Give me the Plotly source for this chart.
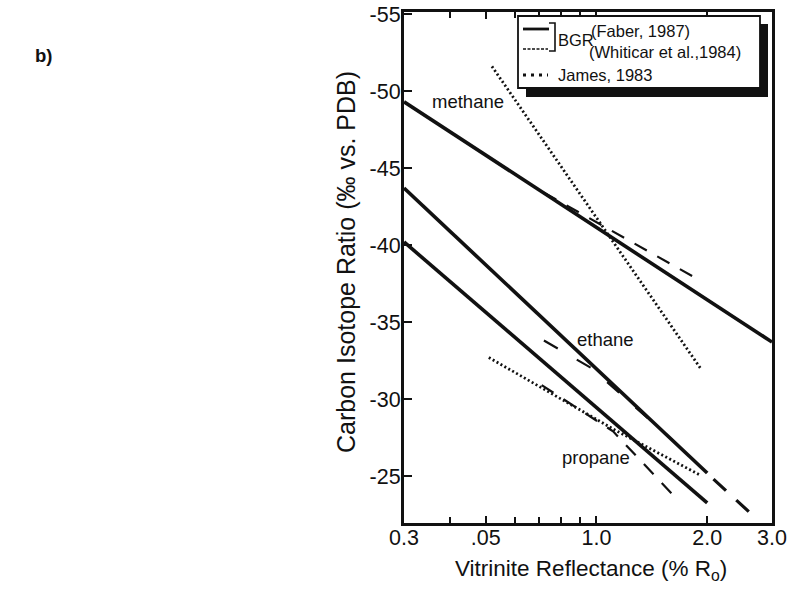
import plotly.graph_objects as go

# ---- data: vitrinite reflectance (%Ro) vs. carbon isotope ratio (permil vs. PDB) ----
# BGR regression lines (Faber, 1987)
methane_bgr_ro = [0.3, 3.0]
methane_bgr_d13c = [-49.3, -33.7]
ethane_bgr_ro = [0.3, 2.0]
ethane_bgr_d13c = [-43.7, -25.2]
ethane_ext_ro = [2.08, 2.66]          # extrapolated part of the ethane line
ethane_ext_d13c = [-24.8, -22.45]
propane_bgr_ro = [0.3, 2.0]
propane_bgr_d13c = [-40.2, -23.25]

# BGR data trends (Whiticar et al., 1984)
methane_whit_ro = [0.72, 1.88]
methane_whit_d13c = [-43.4, -37.8]
ethane_whit_ro = [0.72, 0.97, 1.65]
ethane_whit_d13c = [-33.8, -32.0, -27.1]
propane_whit_ro = [0.71, 1.11, 1.64]
propane_whit_d13c = [-30.9, -27.9, -23.6]

# James, 1983
methane_james_ro = [0.52, 1.93]
methane_james_d13c = [-51.6, -31.9]
propane_james_ro = [0.51, 1.12, 1.90]
propane_james_d13c = [-32.7, -28.0, -25.1]

x_tickvals = [0.3, 0.5, 1.0, 2.0, 3.0]
x_ticktext = ["0.3", ".05", "1.0", "2.0", "3.0"]
x_minor_ticks = [0.4, 0.6, 0.7, 0.8, 0.9]
y_tickvals = [-55, -50, -45, -40, -35, -30, -25]
y_ticktext = ["-55", "-50", "-45", "-40", "-35", "-30", "-25"]

FONT = "Liberation Sans, Arial, Helvetica, sans-serif"
INK = "#111111"

# plot-area geometry in pixels
W, H = 793, 589
L, R, T, B = 404, 772, 12, 523


def px(xp):
    return (xp - L) / (R - L)


def py(yp):
    return (B - yp) / (B - T)


fig = go.Figure()


def add_line(xs, ys, width, dash="solid"):
    fig.add_trace(go.Scatter(
        x=xs, y=ys, mode="lines", showlegend=False, hoverinfo="skip",
        line=dict(color=INK, width=width, dash=dash),
    ))


# James (dotted)
add_line(methane_james_ro, methane_james_d13c, 2.8, "2px,2.5px")
add_line(propane_james_ro, propane_james_d13c, 2.8, "2px,2.5px")
# Whiticar (thin broken)
add_line(methane_whit_ro, methane_whit_d13c, 2.2, "14px,12px")
add_line(ethane_whit_ro, ethane_whit_d13c, 2.2, "16px,22px")
add_line(propane_whit_ro, propane_whit_d13c, 2.2, "14px,12px")
# Faber (solid)
add_line(methane_bgr_ro, methane_bgr_d13c, 3.6)
add_line(ethane_bgr_ro, ethane_bgr_d13c, 3.6)
add_line(propane_bgr_ro, propane_bgr_d13c, 3.6)
add_line(ethane_ext_ro, ethane_ext_d13c, 3.2, "17px,14px")

shapes = [
    # legend box with drop shadow
    dict(type="rect", xref="paper", yref="paper", x0=px(526), x1=px(768), y0=py(97), y1=py(24),
         fillcolor=INK, line=dict(width=0), layer="above"),
    dict(type="rect", xref="paper", yref="paper", x0=px(518), x1=px(760), y0=py(88), y1=py(16),
         fillcolor="white", line=dict(color=INK, width=1.8), layer="above"),
    # legend samples
    dict(type="line", xref="paper", yref="paper", x0=px(523), x1=px(549), y0=py(29), y1=py(29),
         line=dict(color=INK, width=2.8), layer="above"),
    dict(type="line", xref="paper", yref="paper", x0=px(523), x1=px(548), y0=py(49), y1=py(49),
         line=dict(color=INK, width=1.5, dash="3px,1.5px"), layer="above"),
    dict(type="path", xref="paper", yref="paper",
         path=f"M {px(549)} {py(23)} L {px(555)} {py(23)} L {px(555)} {py(51)} L {px(549)} {py(51)}",
         line=dict(color=INK, width=1.6), layer="above"),
    dict(type="line", xref="paper", yref="paper", x0=px(523), x1=px(548), y0=py(75), y1=py(75),
         line=dict(color=INK, width=2.8, dash="3px,5px"), layer="above"),
]

annotations = [
    dict(text="BGR", x=px(556), y=py(40), xanchor="left", yanchor="middle",
         font=dict(size=16.5)),
    dict(text="(Faber, 1987)", x=px(589), y=py(31), xanchor="left", yanchor="middle",
         font=dict(size=16.5)),
    dict(text="(Whiticar et al.,1984)", x=px(587), y=py(52), xanchor="left", yanchor="middle",
         font=dict(size=16.5)),
    dict(text="James, 1983", x=px(556), y=py(75), xanchor="left", yanchor="middle",
         font=dict(size=16.5)),
    # curve labels
    dict(text="methane", x=px(468), y=py(101), xanchor="center", yanchor="middle",
         font=dict(size=18.5)),
    dict(text="ethane", x=px(605), y=py(339), xanchor="center", yanchor="middle",
         font=dict(size=18.5)),
    dict(text="propane", x=px(596), y=py(457), xanchor="center", yanchor="middle",
         font=dict(size=18.5)),
    # axis titles
    dict(text="Carbon Isotope Ratio (‰ vs. PDB)", x=px(346), y=py(262), textangle=-90,
         xanchor="center", yanchor="middle", font=dict(size=25)),
    dict(text="Vitrinite Reflectance (% R<sub>o</sub>)", x=px(591), y=py(570),
         xanchor="center", yanchor="middle", font=dict(size=22.5)),
    # panel letter
    dict(text="<b>b)</b>", x=px(43), y=py(55), xanchor="center", yanchor="middle",
         font=dict(size=18.5)),
]
for a in annotations:
    a.update(xref="paper", yref="paper", showarrow=False)
    a["font"].update(family=FONT, color=INK)

fig.update_layout(
    width=W, height=H,
    margin=dict(l=L, r=W - R, t=T, b=H - B, pad=0, autoexpand=False),
    paper_bgcolor="white", plot_bgcolor="white",
    font=dict(family=FONT, color=INK, size=20),
    shapes=shapes, annotations=annotations,
    xaxis=dict(
        type="log", range=[-0.5228787, 0.4771213],
        tickmode="array", tickvals=x_tickvals, ticktext=x_ticktext,
        ticks="inside", ticklen=7, tickwidth=2.2, tickcolor=INK,
        minor=dict(tickmode="array", tickvals=x_minor_ticks, ticks="inside",
                   ticklen=6, tickwidth=2.2, tickcolor=INK),
        showline=True, linecolor=INK, linewidth=3, mirror="ticks",
        showgrid=False, zeroline=False, automargin=False,
        ticklabelstandoff=-7,
        tickfont=dict(size=21.5, family=FONT, color=INK),
    ),
    yaxis=dict(
        range=[-21.95, -55.13],
        tickmode="array", tickvals=y_tickvals, ticktext=y_ticktext,
        ticks="inside", ticklen=8, tickwidth=2.2, tickcolor=INK,
        showline=True, linecolor=INK, linewidth=3, mirror=True,
        showgrid=False, zeroline=False, automargin=False,
        ticklabelstandoff=-4,
        tickfont=dict(size=21.5, family=FONT, color=INK),
    ),
)

fig.write_html("out.html")
